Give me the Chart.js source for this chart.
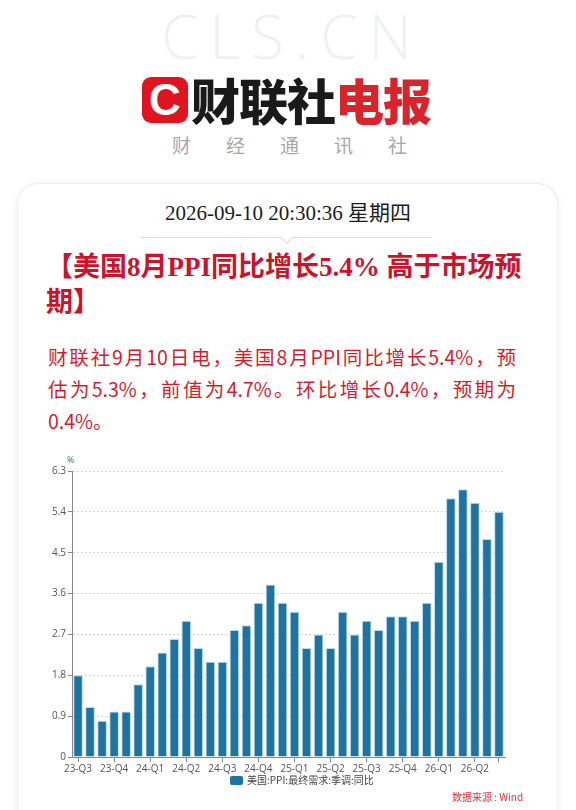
<!DOCTYPE html>
<html><head><meta charset="utf-8">
<script src="https://cdn.jsdelivr.net/npm/chart.js@4.4.1/dist/chart.umd.min.js"></script>
<style>
html,body{margin:0;padding:0;width:576px;height:810px;overflow:hidden;background:#fff;}
body{position:relative;font-family:"Noto Sans CJK SC","Noto Sans",sans-serif;}
.abs{position:absolute;white-space:nowrap;}
#cls{left:4px;width:576px;top:6px;text-align:center;font-family:"Open Sans";font-weight:300;font-size:60px;letter-spacing:11px;color:#eff0f2;line-height:60px;}
#logoC{left:142px;top:77px;width:46px;height:46px;background:#e0141e;border-radius:9px;color:#fff;font-family:"Liberation Sans";font-weight:700;font-size:44px;line-height:46px;text-align:center;}
#brand{left:191px;top:70px;font-family:"Noto Sans CJK SC";font-weight:900;font-size:49px;line-height:58px;letter-spacing:-1px;color:#1a1a1a;}
#brand span{color:#d9232d;}
#sub{left:172px;top:132px;font-size:19px;line-height:26px;color:#a8a8a8;letter-spacing:35px;}
#card{left:17px;top:183px;width:539px;height:680px;border-radius:22px;background:#fff;box-shadow:0 0 6px rgba(0,0,0,0.07);border:1px solid #f0f0f0;}
#date{left:0;width:576px;top:199px;text-align:center;font-family:"Liberation Serif","Noto Sans CJK SC";font-size:21px;line-height:28px;color:#1c1c1c;}
#sep{left:141px;top:237px;width:291px;height:1px;background:#dcdcdc;}
#notch{left:282px;top:232px;width:9px;height:9px;background:#fff;border-right:1px solid #dcdcdc;border-bottom:1px solid #dcdcdc;transform:rotate(45deg);}
.title{left:46px;width:472px;font-family:"Liberation Serif","Noto Sans CJK SC";font-weight:700;font-size:27px;line-height:35px;color:#c9142c;text-align-last:justify;}
.body{left:48px;width:468px;font-family:"Noto Sans CJK SC";font-size:19.5px;line-height:32px;color:#cf1f2e;text-align-last:justify;}
#pct{left:67px;top:453px;font-size:9px;color:#666;font-family:"Open Sans";}
#legBox{left:230px;top:776px;width:13px;height:9px;background:#1f73a0;border-radius:2px;}
#legTxt{left:247px;top:773px;font-size:10px;line-height:14px;color:#444;}
#src{left:452px;top:790px;font-size:10px;line-height:14px;color:#d7353f;}
canvas{position:absolute;left:0;top:440px;}
</style></head>
<body>
<div class="abs" id="cls">CLS.CN</div>
<div class="abs" id="logoC">C</div>
<div class="abs" id="brand">财联社<span>电报</span></div>
<div class="abs" id="sub">财经通讯社</div>
<div class="abs" id="card"></div>
<div class="abs" id="date">2026-09-10 20:30:36 星期四</div>
<div class="abs" id="sep"></div>
<div class="abs" id="notch"></div>
<div class="abs title" style="top:250px;">【美国8月PPI同比增长5.4% 高于市场预</div>
<div class="abs title" style="top:285px;text-align-last:left;">期】</div>
<div class="abs body" style="top:341px;">财联社9月10日电，美国8月PPI同比增长5.4%，预</div>
<div class="abs body" style="top:373px;">估为5.3%，前值为4.7%。环比增长0.4%，预期为</div>
<div class="abs body" style="top:405px;text-align-last:left;">0.4%。</div>
<div class="abs" id="pct">%</div>
<canvas id="c" width="576" height="340" style="width:576px;height:340px;"></canvas>
<div class="abs" id="legBox"></div>
<div class="abs" id="legTxt">美国:PPI:最终需求:季调:同比</div>
<div class="abs" id="src">数据来源 : Wind</div>
<script>
const xLabels = ['23-Q3','','','23-Q4','','','24-Q1','','','24-Q2','','','24-Q3','','','24-Q4','','','25-Q1','','','25-Q2','','','25-Q3','','','25-Q4','','','26-Q1','','','26-Q2','',''];
const ppiYoY = [1.8,1.1,0.8,1.0,1.0,1.6,2.0,2.3,2.6,3.0,2.4,2.1,2.1,2.8,2.9,3.4,3.8,3.4,3.2,2.4,2.7,2.4,3.2,2.7,3.0,2.8,3.1,3.1,3.0,3.4,4.3,5.7,5.9,5.6,4.8,5.4];
const yTicks = [0,0.9,1.8,2.7,3.6,4.5,5.4,6.3];
const seriesName = '美国:PPI:最终需求:季调:同比';

new Chart(document.getElementById('c'), {
  type: 'bar',
  data: {
    labels: xLabels,
    datasets: [{
      label: seriesName,
      data: ppiYoY,
      backgroundColor: '#1f73a0',
      borderColor: 'rgba(175,215,238,0.9)',
      borderWidth: 1,
      categoryPercentage: 1.0,
      barPercentage: 0.8
    }]
  },
  options: {
    responsive: false,
    animation: false,
    layout: {padding: {top: 31, right: 71, left: 0, bottom: 0}},
    plugins: {legend: {display: false}, tooltip: {enabled: false}},
    scales: {
      x: {
        offset: true,
        grid: {
          display: true, drawOnChartArea: false, offset: false, drawTicks: true, tickLength: 5,
          tickColor: ctx => (xLabels[ctx.index] || ctx.index === xLabels.length - 1) ? '#888' : 'rgba(0,0,0,0)'
        },
        border: {display: true, color: '#888', width: 1},
        ticks: {autoSkip: false, maxRotation: 0, minRotation: 0, color: '#555', padding: 1,
          font: {family: 'Open Sans', size: 10},
          callback: (v, i) => xLabels[i]},
        afterFit: s => { s.height = 23; }
      },
      y: {
        min: 0, max: 6.3,
        afterBuildTicks: s => { s.ticks = yTicks.map(v => ({value: v})); },
        grid: {color: '#d8d8d8', lineWidth: 1, drawTicks: true, tickLength: 4, tickColor: '#888'},
        border: {display: true, color: '#888', width: 1, dash: [2, 2]},
        ticks: {color: '#555', padding: 2, font: {family: 'Open Sans', size: 10},
          callback: v => v === 0 ? '0' : v.toFixed(1)},
        afterFit: s => { s.width = 72; }
      }
    }
  }
});
</script>
</body></html>
